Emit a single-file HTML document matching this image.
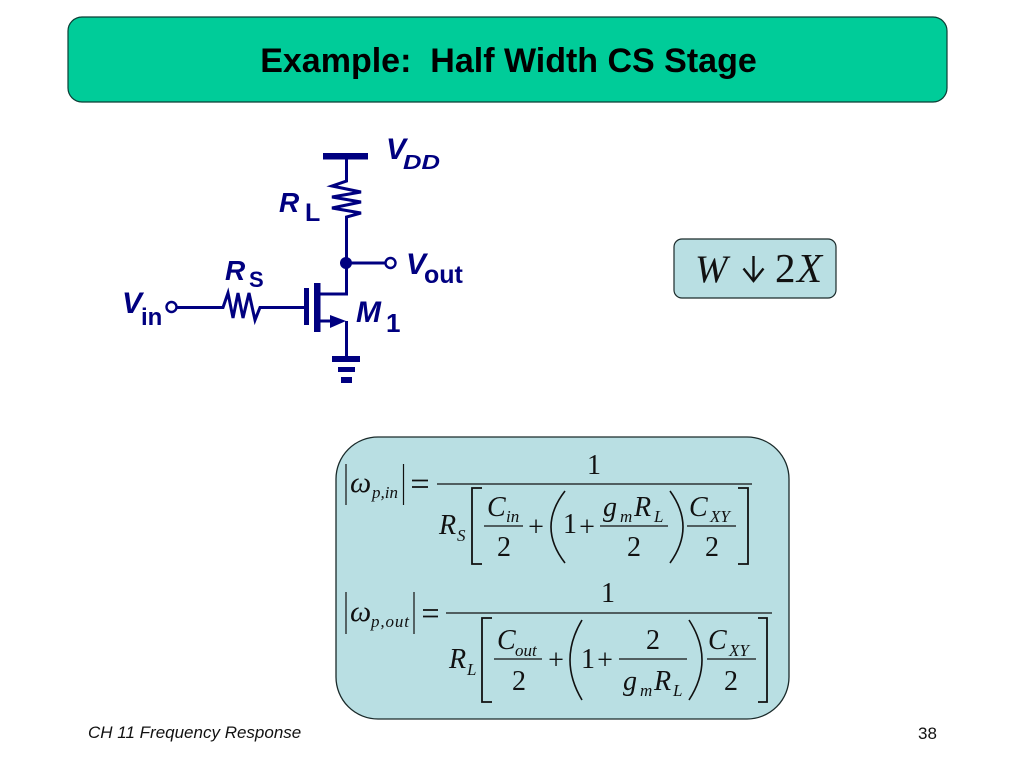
<!DOCTYPE html>
<html><head><meta charset="utf-8"><style>
html,body{margin:0;padding:0;background:#fff;width:1024px;height:768px;overflow:hidden}
svg{display:block}
.s{font-family:"Liberation Serif",serif;fill:#111}
.m{font-size:28px}
.i{font-style:italic}
.b{font-size:17px;font-style:italic}
.c{font-family:"Liberation Sans",sans-serif;font-weight:bold;fill:#000080}
.ci{font-style:italic}
.l{stroke:#111;stroke-width:1.2;fill:none}
.w{stroke:#000080;stroke-width:3;fill:none}
</style></head><body>
<svg width="1024" height="768" viewBox="0 0 1024 768" xmlns="http://www.w3.org/2000/svg">
<rect x="68" y="17" width="879" height="85" rx="14" fill="#00CC99" stroke="#0b3d34" stroke-width="1.2"/>
<text x="508.500" y="72" text-anchor="middle" font-family="Liberation Sans" font-weight="bold" font-size="34" fill="#000" xml:space="preserve">Example:  Half Width CS Stage</text>

<!-- circuit -->
<g>
<rect x="323" y="153" width="45" height="6.5" fill="#000080"/>
<path class="w" d="M346.500 156V181L332 186L361 192L332 197L361 202L332 208L361 213L346.500 217V294H320"/>
<circle cx="346" cy="263" r="6" fill="#000080"/>
<path class="w" d="M346 263H385"/>
<circle cx="390.500" cy="263" r="5" fill="#fff" stroke="#000080" stroke-width="2.400"/>
<circle cx="171.500" cy="307" r="5" fill="#fff" stroke="#000080" stroke-width="2.400"/>
<path class="w" d="M177 307.500H223L228 293L233 318L238 293L243 318L249 293L255 320L260 307.500H304"/>
<rect x="304" y="288" width="5" height="37" fill="#000080"/>
<rect x="314" y="283" width="6.500" height="49" fill="#000080"/>
<path class="w" d="M320 321H333M346.500 321V357"/>
<path d="M330 315L346 321L330 328Z" fill="#000080"/>
<rect x="332" y="356" width="28" height="6" fill="#000080"/>
<rect x="338" y="367" width="17" height="5" fill="#000080"/>
<rect x="341" y="377" width="11" height="6" fill="#000080"/>
<text class="c ci" x="386" y="159" font-size="30">V</text>
<text class="c ci" x="403" y="169" font-size="20" textLength="37" lengthAdjust="spacingAndGlyphs">DD</text>
<text class="c ci" x="279" y="212" font-size="28">R</text>
<text class="c" x="305" y="221" font-size="25">L</text>
<text class="c ci" x="225" y="280" font-size="28">R</text>
<text class="c" x="249" y="287" font-size="22">S</text>
<text class="c ci" x="122" y="313" font-size="30">V</text>
<text class="c" x="141" y="325" font-size="24">in</text>
<text class="c ci" x="406" y="274" font-size="30">V</text>
<text class="c" x="424" y="283" font-size="25">out</text>
<text class="c ci" x="356" y="322" font-size="30">M</text>
<text class="c" x="386" y="332" font-size="26">1</text>
</g>

<!-- W box -->
<rect x="674" y="239" width="162" height="59" rx="8" fill="#B9DFE3" stroke="#1a2a2a" stroke-width="1.2"/>
<text class="s i" x="695" y="282" font-size="39">W</text>
<path d="M753.500 256V280M743.500 268.500L753.500 281L763.500 268.500" stroke="#111" stroke-width="2.400" fill="none"/>
<text class="s" x="775" y="282" font-size="41">2</text>
<text class="s i" x="797" y="282" font-size="41">X</text>

<!-- Formula box -->
<rect x="336" y="437" width="453" height="282" rx="42" fill="#B9DFE3" stroke="#1a2a2a" stroke-width="1.3"/>

<!-- Eq 1 -->
<path class="l" d="M346 464V505M403.500 464V505M437 484H752"/>
<text class="s i" x="350" y="492" font-size="30">ω</text>
<text class="s b" x="372" y="498">p,in</text>
<path class="l" style="stroke-width:1.800" d="M412 480.500H428M412 487H428"/>
<text class="s m" x="594" y="474" text-anchor="middle">1</text>
<text class="s m i" x="439" y="534">R</text>
<text class="s b" x="457" y="541">S</text>
<path class="l" style="stroke-width:1.800" d="M482 488H472V564H482M738 488H748V564H738"/>
<text class="s m i" x="487" y="516">C</text>
<text class="s b" x="506" y="522">in</text>
<path class="l" d="M484 526H523M600 526H668M687 526H736"/>
<text class="s m" x="504" y="556" text-anchor="middle">2</text>
<text class="s m" x="536" y="536" text-anchor="middle">+</text>
<path class="l" style="stroke-width:1.600" d="M565 491Q537 527 565 563M670 491Q696 527 670 563"/>
<text class="s m" x="570" y="533" text-anchor="middle">1</text>
<text class="s m" x="587" y="536" text-anchor="middle">+</text>
<text class="s m i" x="603" y="516">g</text>
<text class="s b" x="620" y="522">m</text>
<text class="s m i" x="634" y="516">R</text>
<text class="s b" x="654" y="522">L</text>
<text class="s m" x="634" y="556" text-anchor="middle">2</text>
<text class="s m i" x="689" y="516">C</text>
<text class="s b" x="710" y="522">XY</text>
<text class="s m" x="712" y="556" text-anchor="middle">2</text>

<!-- Eq 2 -->
<path class="l" d="M346 592V634M414 592V634M446 613H772"/>
<text class="s i" x="350" y="621" font-size="30">ω</text>
<text class="s b" x="371" y="627" textLength="38">p,out</text>
<path class="l" style="stroke-width:1.800" d="M423 610H438M423 616.500H438"/>
<text class="s m" x="608" y="602" text-anchor="middle">1</text>
<text class="s m i" x="449" y="668">R</text>
<text class="s b" x="467" y="675">L</text>
<path class="l" style="stroke-width:1.800" d="M492 618H482V702H492M758 618H767V702H758"/>
<text class="s m i" x="497" y="649">C</text>
<text class="s b" x="515" y="656">out</text>
<path class="l" d="M494 659H542M619 659H687M707 659H756"/>
<text class="s m" x="519" y="690" text-anchor="middle">2</text>
<text class="s m" x="556" y="669" text-anchor="middle">+</text>
<path class="l" style="stroke-width:1.600" d="M582 620Q558 660 582 700M689 620Q715 660 689 700"/>
<text class="s m" x="588" y="668" text-anchor="middle">1</text>
<text class="s m" x="605" y="669" text-anchor="middle">+</text>
<text class="s m" x="653" y="649" text-anchor="middle">2</text>
<text class="s m i" x="623" y="690">g</text>
<text class="s b" x="640" y="696">m</text>
<text class="s m i" x="654" y="690">R</text>
<text class="s b" x="673" y="696">L</text>
<text class="s m i" x="708" y="649">C</text>
<text class="s b" x="729" y="656">XY</text>
<text class="s m" x="731" y="690" text-anchor="middle">2</text>

<!-- footer -->
<text x="88" y="738" font-family="Liberation Sans" font-style="italic" font-size="17" fill="#111">CH 11 Frequency Response</text>
<text x="918" y="739" font-family="Liberation Sans" font-size="17" fill="#111">38</text>
</svg>
</body></html>
